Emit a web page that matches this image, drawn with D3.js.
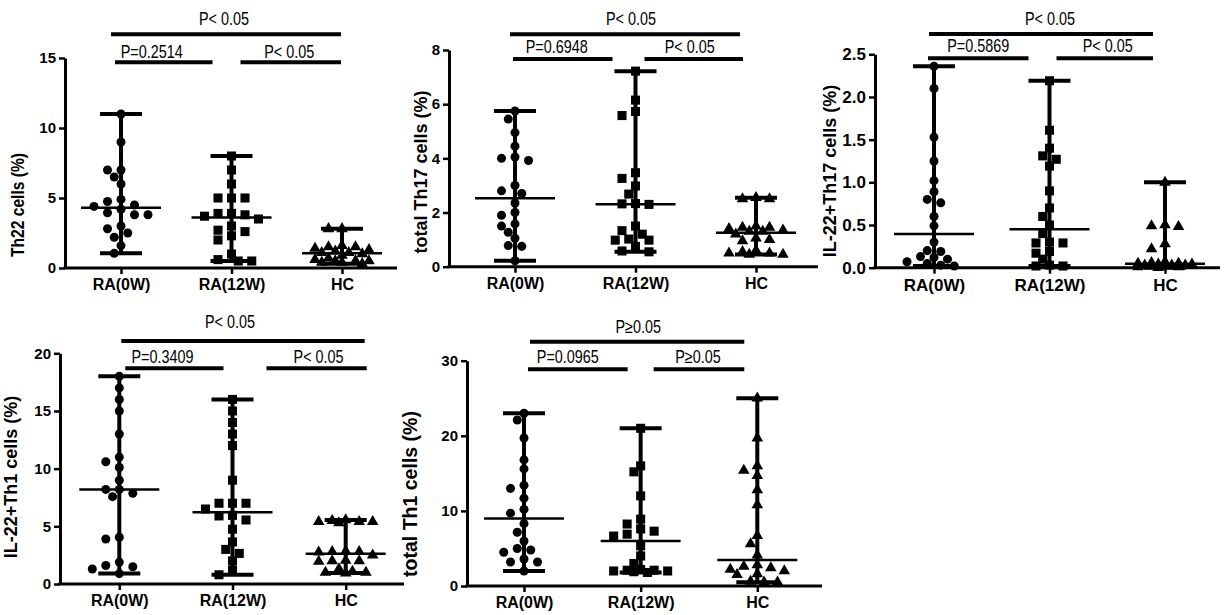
<!DOCTYPE html>
<html>
<head>
<meta charset="utf-8">
<script src="https://cdn.jsdelivr.net/npm/d3@7"></script>
<style>
	body { margin: 0; background: #fff; }
	svg { display: block; }
</style>
</head>
<body>
<svg id="chart" width="1227" height="615"></svg>
<script>
"use strict";
/* global d3 */

// groups on every x axis
var groups = ["RA(0W)", "RA(12W)", "HC"];

// Th22 cells (%)
var th22Ra0 = [11, 9, 7, 7, 6.5, 6, 4.9, 4.75, 4.5, 4.4, 4.2, 3.95, 3.8, 3.8, 3.0, 2.8, 2.5, 2.2, 1.6, 1.05];
var th22Ra12 = [8, 7, 6, 5, 5, 5, 3.9, 3.9, 3.8, 3.7, 3.5, 3.0, 2.7, 2.6, 2.3, 2.0, 1.0, 0.6, 0.5, 0.5];
var th22Hc = [2.8, 2.8, 1.6, 1.5, 1.5, 1.4, 1.3, 1.2, 1.1, 1.1, 1.0, 0.9, 0.7, 0.6, 0.5, 0.5, 0.5, 0.4, 0.4, 0.3];
var th22Ticks = [0, 5, 10, 15];
var th22P = ["P< 0.05", "P=0.2514", "P< 0.05"];

// total Th17 cells (%)
var th17Ra0 = [5.75, 5.45, 4.95, 4.45, 4.05, 4.0, 3.92, 3.0, 2.8, 2.7, 2.35, 2.0, 1.9, 1.58, 1.5, 1.27, 1.05, 0.78, 0.75, 0.22];
var th17Ra12 = [7.22, 6.15, 5.73, 5.58, 3.47, 3.26, 2.98, 2.68, 2.33, 2.32, 2.3, 1.5, 1.33, 1.2, 1.02, 0.98, 0.98, 0.75, 0.58, 0.55];
var th17Hc = [2.55, 2.5, 2.5, 1.5, 1.45, 1.45, 1.4, 1.35, 1.3, 1.3, 1.2, 1.05, 1.0, 0.95, 0.6, 0.55, 0.5, 0.5, 0.45, 0.45];
var th17Ticks = [0, 2, 4, 6, 8];
var th17P = ["P< 0.05", "P=0.6948", "P< 0.05"];

// IL-22+Th17 cells (%)
var il22Th17Ra0 = [2.36, 2.1, 1.53, 1.25, 1.02, 0.89, 0.8, 0.76, 0.6, 0.49, 0.3, 0.2, 0.19, 0.13, 0.12, 0.1, 0.07, 0.05, 0.03, 0.02];
var il22Th17Ra12 = [2.19, 1.61, 1.4, 1.31, 1.27, 1.19, 0.9, 0.7, 0.6, 0.5, 0.4, 0.3, 0.29, 0.29, 0.19, 0.17, 0.1, 0.03, 0.02, 0.02];
var il22Th17Hc = [1.0, 0.5, 0.49, 0.48, 0.28, 0.22, 0.07, 0.06, 0.05, 0.05, 0.04, 0.04, 0.03, 0.03, 0.03, 0.02, 0.02, 0.01, 0.01, 0.0];
var il22Th17Ticks = [0, 0.5, 1, 1.5, 2, 2.5];
var il22Th17P = ["P< 0.05", "P=0.5869", "P< 0.05"];

// IL-22+Th1 cells (%)
var il22Th1Ra0 = [18, 17, 16, 15, 13, 11, 10.6, 10.1, 9, 8.2, 8.2, 7.86, 7.57, 4.05, 3.9, 1.9, 1.6, 1.5, 1.3, 0.9];
var il22Th1Ra12 = [16, 15, 14, 13, 12, 9, 7, 7, 7, 6.5, 5.95, 5.9, 5.55, 4.75, 3.65, 3.0, 2.65, 2.0, 1.2, 0.8];
var il22Th1Hc = [5.55, 5.5, 5.4, 5.4, 5.4, 5.3, 2.85, 2.8, 2.8, 2.75, 2.5, 2.05, 2.0, 2.0, 1.95, 1.3, 1.1, 1.0, 1.0, 0.95];
var il22Th1Ticks = [0, 5, 10, 15, 20];
var il22Th1P = ["P< 0.05", "P=0.3409", "P< 0.05"];

// total Th1 cells (%)
var th1Ra0 = [23, 22.1, 19.7, 16.8, 15.6, 13.4, 13, 11.7, 10.2, 9.7, 8.3, 7.15, 6.0, 5.0, 4.8, 4.5, 3.6, 3.2, 3.2, 2.0];
var th1Ra12 = [21, 16, 15.2, 12, 8.9, 8.25, 7.6, 7.3, 6.9, 6.65, 5.35, 4.0, 3.0, 2.2, 2.1, 2.1, 2.0, 2.0, 1.9, 1.8];
var th1Hc = [25, 19.7, 16.0, 15.4, 14.7, 12.8, 10.8, 6.7, 5.6, 4.1, 2.8, 2.6, 2.4, 2.2, 2.0, 1.6, 1.5, 0.6, 0.5, 0.5];
var th1Ticks = [0, 10, 20, 30];
var th1P = ["P\u22650.05", "P=0.0965", "P\u22650.05"];

// layout of each panel (pixels); bracket ends are given as [group index, offset]
var panels = [
	{title: "Th22 cells (%)", series: [th22Ra0, th22Ra12, th22Hc], ticks: th22Ticks, pvals: th22P, fmt: "d",
		axisX: 65, axisEnd: 397, xr: [121, 342], yr: [268, 58], labX: 18, labY: 205, labFs: 18, labLen: 104, fs: 15, xfs: 16,
		br: [
			{a: [0, -10], b: [2, -1], y: 34.3, ty: 25, dx: -2},
			{a: [0, -6], b: [1, -19], y: 62.3, ty: 58, dx: -12},
			{a: [1, 9], b: [2, -1], y: 62.3, ty: 58, dx: -1.5}
		]},
	{title: "total Th17 cells (%)", series: [th17Ra0, th17Ra12, th17Hc], ticks: th17Ticks, pvals: th17P, fmt: "d",
		axisX: 449, axisEnd: 818, xr: [515, 756], yr: [266.7, 50], labX: 421, labY: 172, labFs: 18, fs: 15, xfs: 16,
		br: [
			{a: [0, -5], b: [2, -16], y: 34.3, ty: 25, dx: 6},
			{a: [0, -2], b: [1, -23], y: 59, ty: 53, dx: -6},
			{a: [1, 9], b: [2, -13], y: 59, ty: 53, dx: -4}
		]},
	{title: "IL-22+Th17 cells (%)", series: [il22Th17Ra0, il22Th17Ra12, il22Th17Hc], ticks: il22Th17Ticks, pvals: il22Th17P, fmt: ".1f",
		axisX: 875, axisEnd: 1220, xr: [934, 1165], yr: [267.7, 54.3], labX: 830, labY: 171, labFs: 18, fs: 17, xfs: 17,
		br: [
			{a: [0, -5], b: [2, -12], y: 34, ty: 25, dx: 9},
			{a: [0, -6], b: [1, -21], y: 58.3, ty: 52, dx: 0},
			{a: [1, 7], b: [2, -12], y: 58.3, ty: 52, dx: 3}
		]},
	{title: "IL-22+Th1 cells (%)", series: [il22Th1Ra0, il22Th1Ra12, il22Th1Hc], ticks: il22Th1Ticks, pvals: il22Th1P, fmt: "d",
		axisX: 60, axisEnd: 404, xr: [119.3, 345.7], yr: [584, 353.3], labX: 11, labY: 477, labFs: 18, fs: 15, xfs: 16,
		br: [
			{a: [0, 2], b: [2, 19], y: 341, ty: 328, dx: -13},
			{a: [0, 6], b: [1, -9], y: 368.3, ty: 363, dx: -12},
			{a: [1, 34], b: [2, 21], y: 368.3, ty: 363, dx: 2}
		]},
	{title: "total Th1 cells (%)", series: [th1Ra0, th1Ra12, th1Hc], ticks: th1Ticks, pvals: th1P, fmt: "d",
		axisX: 467, axisEnd: 822, xr: [524, 757.3], yr: [586, 360.7], labX: 410, labY: 494, labFs: 19.5, fs: 15, xfs: 16,
		br: [
			{a: [0, 6], b: [2, -13], y: 341.7, ty: 333, dx: 1},
			{a: [0, 4], b: [1, -13], y: 369.3, ty: 362.7, dx: -10},
			{a: [1, 13], b: [2, -13], y: 369.3, ty: 362.7, dx: -1}
		]}
];

var symbols = [d3.symbolCircle, d3.symbolSquare, d3.symbolTriangle];
var symbolSize = [64, 82, 58];
var fontBold = "'Liberation Sans', Arial, sans-serif";

var svg = d3.select("#chart");

// place points of one group side by side where they would overlap
function swarm(vals, y, cx) {
	var step = 6.75, minD = 9, maxK = 4;
	var placed = [];
	vals.forEach(function(v) {
		var py = y(v), best = 0, bestD = -1;
		for (var k = 0; k <= 2 * maxK; k++) {
			var off = k === 0 ? 0 : (k % 2 ? -1 : 1) * Math.ceil(k / 2) * step;
			var d = d3.min(placed, function(p) { return Math.hypot(p.x - (cx + off), p.y - py); });
			if (d === undefined || d >= minD) { best = off; break; }
			if (d > bestD) { bestD = d; best = off; }
		}
		placed.push({x: cx + best, y: py});
	});
	return placed;
}

panels.forEach(function(p) {
	var g = svg.append("g");
	var x = d3.scalePoint().domain(groups).range(p.xr);
	var y = d3.scaleLinear().domain([0, p.ticks[p.ticks.length - 1]]).range(p.yr);

	// y axis
	var ya = g.append("g")
		.attr("transform", "translate(" + p.axisX + ",0)")
		.call(d3.axisLeft(y).tickValues(p.ticks).tickFormat(d3.format(p.fmt)).tickSize(6).tickSizeOuter(0).tickPadding(3));
	ya.select(".domain").attr("stroke-width", 3);
	ya.selectAll(".tick line").attr("stroke-width", 2.5);

	// x axis
	var xa = g.append("g")
		.attr("transform", "translate(0," + p.yr[0] + ")")
		.call(d3.axisBottom(x).tickSize(6).tickSizeOuter(0).tickPadding(5));
	xa.select(".domain").remove();
	xa.selectAll(".tick line").attr("stroke-width", 2.5);
	g.append("line")
		.attr("x1", p.axisX - 1.5).attr("x2", p.axisEnd)
		.attr("y1", p.yr[0]).attr("y2", p.yr[0])
		.attr("stroke", "#000").attr("stroke-width", 3);

	g.selectAll(".tick text")
		.attr("fill", "#000")
		.style("font-family", fontBold)
		.style("font-weight", "bold");
	ya.selectAll(".tick text").style("font-size", p.fs + "px");
	xa.selectAll(".tick text").style("font-size", p.xfs + "px");

	// y title
	var lab = g.append("text")
		.attr("transform", "translate(" + p.labX + "," + p.labY + ") rotate(-90)")
		.attr("text-anchor", "middle")
		.attr("dominant-baseline", "central")
		.style("font-family", fontBold)
		.style("font-weight", "bold")
		.style("font-size", p.labFs + "px")
		.text(p.title);
	if (p.labLen) {
		lab.attr("textLength", p.labLen).attr("lengthAdjust", "spacingAndGlyphs");
	}

	// groups: range bar, median and points
	p.series.forEach(function(vals, i) {
		var cx = x(groups[i]);
		var ext = d3.extent(vals);
		var med = d3.median(vals);
		g.append("line")
			.attr("x1", cx).attr("x2", cx).attr("y1", y(ext[0])).attr("y2", y(ext[1]))
			.attr("stroke", "#000").attr("stroke-width", 4);
		ext.forEach(function(v) {
			g.append("line")
				.attr("x1", cx - 21).attr("x2", cx + 21).attr("y1", y(v)).attr("y2", y(v))
				.attr("stroke", "#000").attr("stroke-width", 4);
		});
		g.append("line")
			.attr("x1", cx - 40).attr("x2", cx + 40).attr("y1", y(med)).attr("y2", y(med))
			.attr("stroke", "#000").attr("stroke-width", 2.5);

		g.selectAll(null)
			.data(swarm(vals, y, cx))
			.enter().append("path")
			.attr("transform", function(d) { return "translate(" + d.x + "," + d.y + ")"; })
			.attr("d", d3.symbol().type(symbols[i]).size(symbolSize[i]))
			.attr("fill", "#000");
	});

	// significance brackets, labels in a narrowed face
	p.br.forEach(function(b, j) {
		var x1 = x(groups[b.a[0]]) + b.a[1];
		var x2 = x(groups[b.b[0]]) + b.b[1];
		g.append("line")
			.attr("x1", x1).attr("x2", x2).attr("y1", b.y).attr("y2", b.y)
			.attr("stroke", "#000").attr("stroke-width", 4);
		g.append("text")
			.attr("transform", "translate(" + ((x1 + x2) / 2 + b.dx) + "," + b.ty + ") scale(0.8,1)")
			.attr("text-anchor", "middle")
			.style("font-family", fontBold)
			.style("font-size", "18px")
			.text(p.pvals[j]);
	});
});
</script>
</body>
</html>
